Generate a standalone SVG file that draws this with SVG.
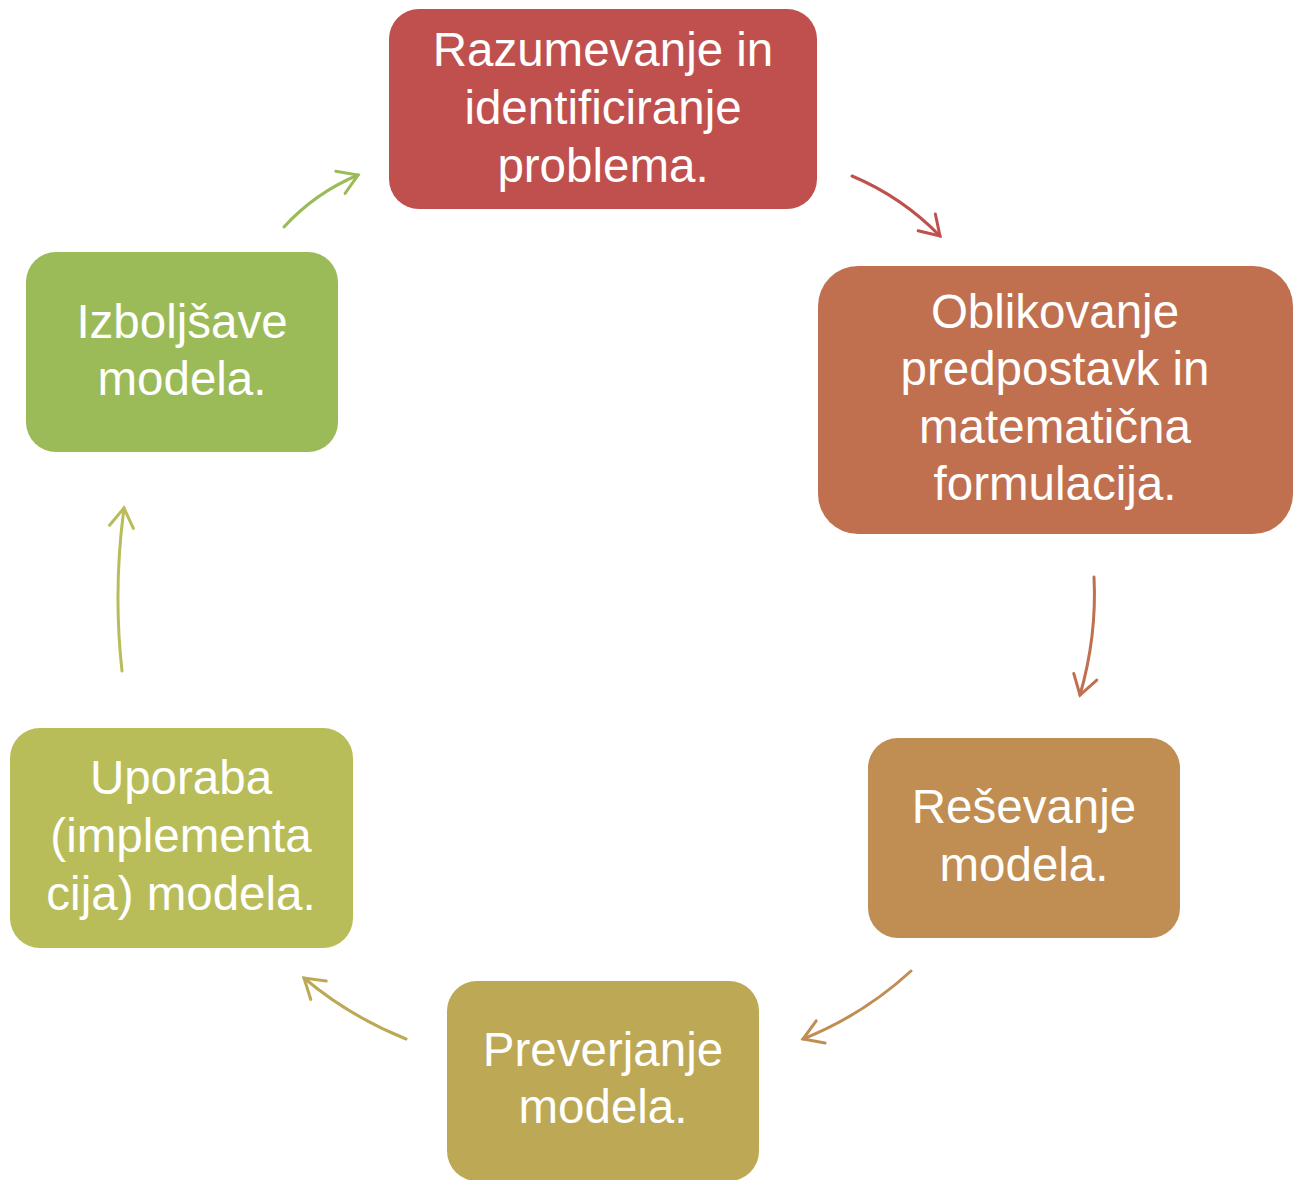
<svg xmlns="http://www.w3.org/2000/svg" width="1293" height="1180" viewBox="0 0 1293 1180">
<style>
.lbl{font-family:"Liberation Sans","Open Sans",Arial,sans-serif;font-size:47.5px;fill:#FFFFFF;text-anchor:middle}
.con{fill:none;stroke-width:3;stroke-linecap:round}
</style>
<defs>
<marker id="m1" markerUnits="userSpaceOnUse" markerWidth="30" markerHeight="30" viewBox="-25 -15 30 30" refX="0" refY="0" orient="auto"><path d="M-19,-12 L0,0 L-19,12" fill="none" stroke="#9BBB59" stroke-width="3" stroke-linecap="round"/></marker>
<marker id="m2" markerUnits="userSpaceOnUse" markerWidth="30" markerHeight="30" viewBox="-25 -15 30 30" refX="0" refY="0" orient="auto"><path d="M-19,-12 L0,0 L-19,12" fill="none" stroke="#C0504D" stroke-width="3" stroke-linecap="round"/></marker>
<marker id="m3" markerUnits="userSpaceOnUse" markerWidth="30" markerHeight="30" viewBox="-25 -15 30 30" refX="0" refY="0" orient="auto"><path d="M-19,-12 L0,0 L-19,12" fill="none" stroke="#C0704F" stroke-width="3" stroke-linecap="round"/></marker>
<marker id="m4" markerUnits="userSpaceOnUse" markerWidth="30" markerHeight="30" viewBox="-25 -15 30 30" refX="0" refY="0" orient="auto"><path d="M-19,-12 L0,0 L-19,12" fill="none" stroke="#C08D52" stroke-width="3" stroke-linecap="round"/></marker>
<marker id="m5" markerUnits="userSpaceOnUse" markerWidth="30" markerHeight="30" viewBox="-25 -15 30 30" refX="0" refY="0" orient="auto"><path d="M-19,-12 L0,0 L-19,12" fill="none" stroke="#BDA855" stroke-width="3" stroke-linecap="round"/></marker>
<marker id="m6" markerUnits="userSpaceOnUse" markerWidth="30" markerHeight="30" viewBox="-25 -15 30 30" refX="0" refY="0" orient="auto"><path d="M-19,-12 L0,0 L-19,12" fill="none" stroke="#B8BD59" stroke-width="3" stroke-linecap="round"/></marker>
</defs>
<rect width="1293" height="1180" fill="#FFFFFF"/>
<g id="connectors">
<path class="con" stroke="#9BBB59" marker-end="url(#m1)" d="M284,227 Q315,193 358,175"/>
<path class="con" stroke="#C0504D" marker-end="url(#m2)" d="M852,176 Q902,197 940,236"/>
<path class="con" stroke="#C0704F" marker-end="url(#m3)" d="M1094,577 Q1097,636 1080,695"/>
<path class="con" stroke="#C08D52" marker-end="url(#m4)" d="M911,971 Q863,1015 803,1039"/>
<path class="con" stroke="#BDA855" marker-end="url(#m5)" d="M406,1039 Q349,1016 304,978"/>
<path class="con" stroke="#B8BD59" marker-end="url(#m6)" d="M122,671 Q113,590 124,508"/>
</g>
<g id="n1">
<rect x="389" y="9" width="428" height="200" rx="30" fill="#C0504D"/>
<text class="lbl" x="603" y="66">Razumevanje in</text>
<text class="lbl" x="603" y="124">identificiranje</text>
<text class="lbl" x="603" y="182">problema.</text>
</g>
<g id="n2">
<rect x="818" y="266" width="475" height="268" rx="40" fill="#C0704F"/>
<text class="lbl" x="1055" y="328">Oblikovanje</text>
<text class="lbl" x="1055" y="385">predpostavk in</text>
<text class="lbl" x="1055" y="443">matematična</text>
<text class="lbl" x="1055" y="500">formulacija.</text>
</g>
<g id="n3">
<rect x="868" y="738" width="312" height="200" rx="30" fill="#C08D52"/>
<text class="lbl" x="1024" y="823">Reševanje</text>
<text class="lbl" x="1024" y="881">modela.</text>
</g>
<g id="n4">
<rect x="447" y="981" width="312" height="200" rx="30" fill="#BDA855"/>
<text class="lbl" x="603" y="1066">Preverjanje</text>
<text class="lbl" x="603" y="1123">modela.</text>
</g>
<g id="n5">
<rect x="10" y="728" width="343" height="220" rx="30" fill="#B8BD59"/>
<text class="lbl" x="181" y="794">Uporaba</text>
<text class="lbl" x="181" y="852">(implementa</text>
<text class="lbl" x="181" y="910">cija) modela.</text>
</g>
<g id="n6">
<rect x="26" y="252" width="312" height="200" rx="30" fill="#9BBB59"/>
<text class="lbl" x="182" y="338">Izboljšave</text>
<text class="lbl" x="182" y="395">modela.</text>
</g>
</svg>
